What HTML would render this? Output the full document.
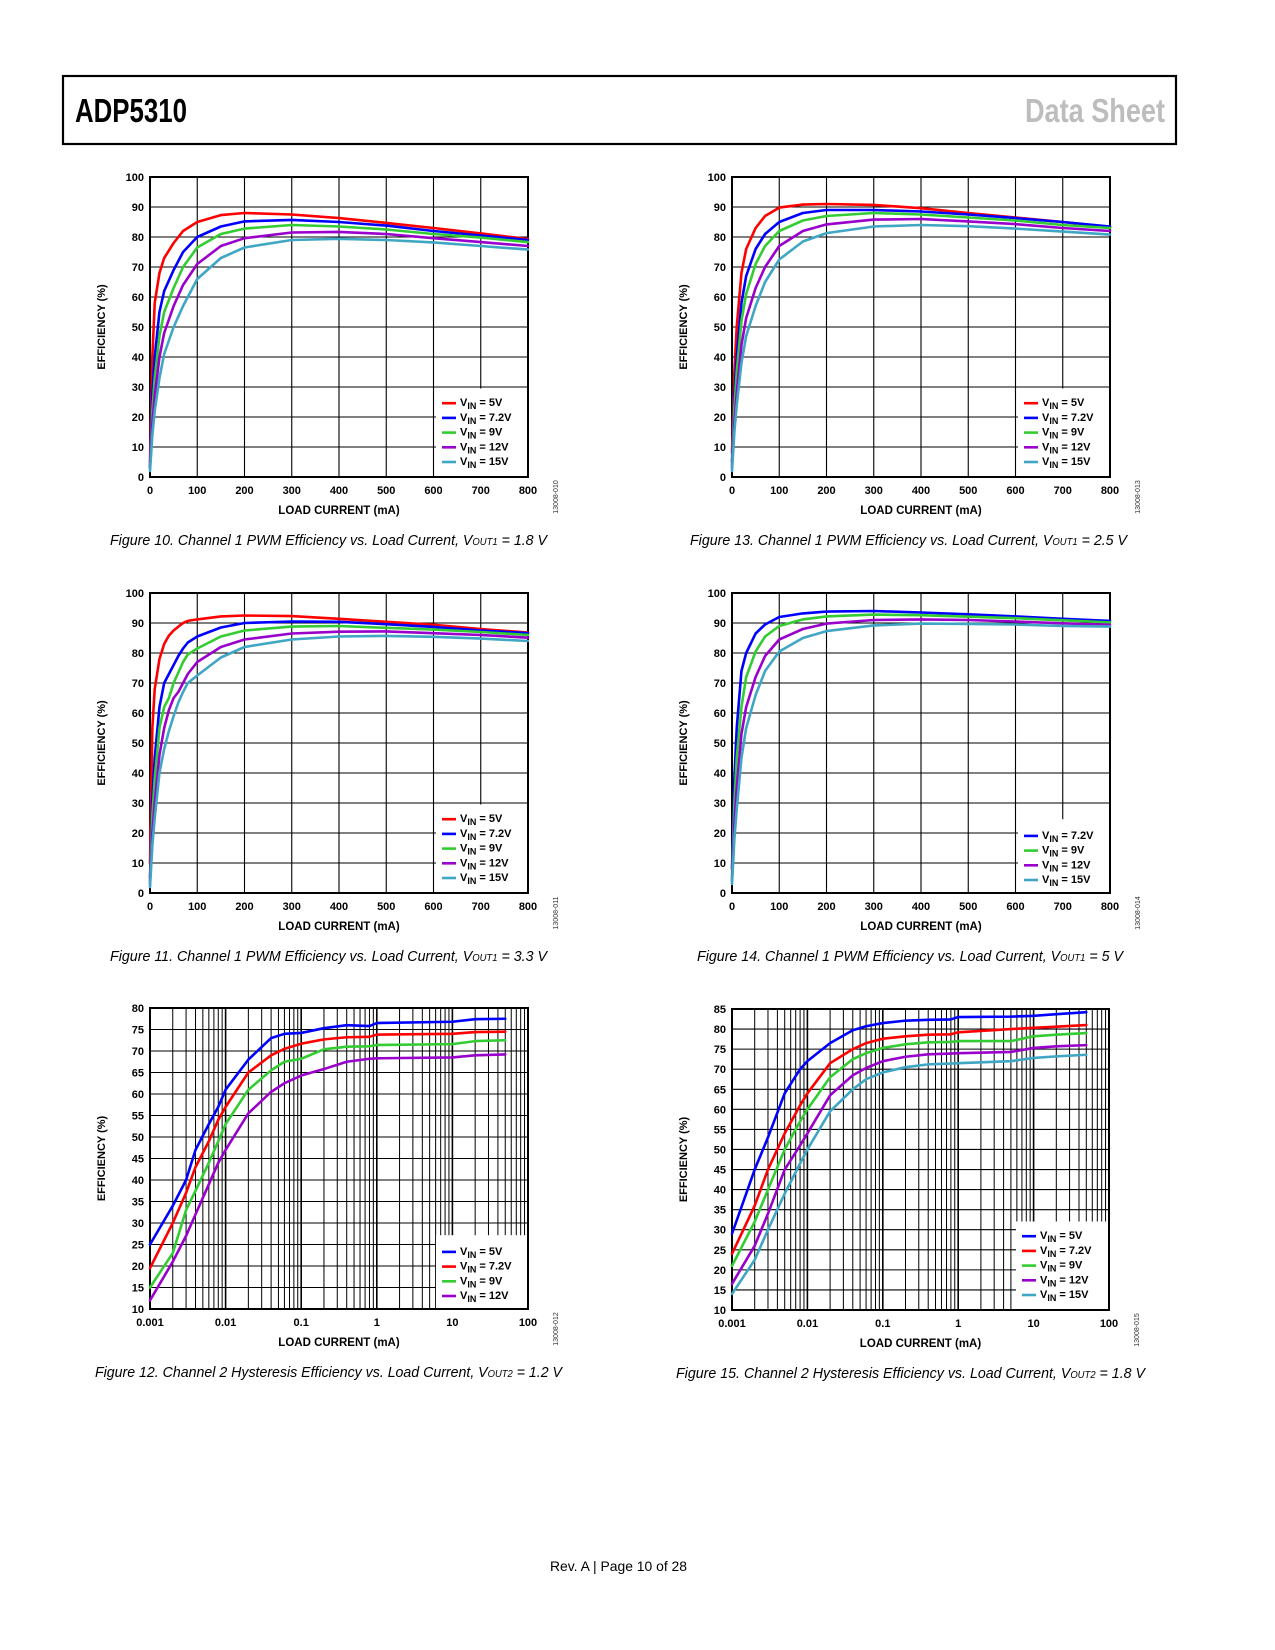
<!DOCTYPE html>
<html><head><meta charset="utf-8"><title>ADP5310 Data Sheet</title>
<style>
html,body{margin:0;padding:0;background:#fff;}
svg{display:block;}
text{font-family:"Liberation Sans",Arial,sans-serif;}
</style></head>
<body>
<svg id="page" xmlns="http://www.w3.org/2000/svg" width="1275" height="1650" viewBox="0 0 1275 1650">
<rect x="0" y="0" width="1275" height="1650" fill="#fff"/>
<rect x="63" y="76" width="1113" height="68" fill="none" stroke="#000" stroke-width="2.2"/>
<text x="75" y="122" font-size="33" font-weight="bold" textLength="112" lengthAdjust="spacingAndGlyphs">ADP5310</text>
<text x="1025" y="122" font-size="33" font-weight="bold" fill="#bdbdbd" textLength="140" lengthAdjust="spacingAndGlyphs">Data Sheet</text>
<text x="550" y="1571" font-size="14" textLength="137" lengthAdjust="spacingAndGlyphs">Rev. A | Page 10 of 28</text>
</svg>
<script>
// ---------- Figure 10 data (VOUT1 = 1.8 V) ----------
const c10x = [0, 5, 10, 20, 30, 50, 70, 100, 150, 200, 300, 400, 500, 600, 700, 800];
const c10v5 = [5, 40, 58, 68, 73, 78, 82, 85, 87.3, 88, 87.5, 86.3, 84.7, 83, 81.2, 79.3];
const c10v72 = [3, 28, 40, 55, 62, 69, 75, 80, 83.5, 85.2, 85.7, 85, 83.8, 82, 80.5, 79];
const c10v9 = [3, 22, 33, 47, 55, 63, 70, 76.5, 81, 82.8, 84, 83.5, 82.5, 81, 79.8, 78.3];
const c10v12 = [3, 18, 27, 40, 48, 57, 64, 71, 77, 79.6, 81.5, 81.7, 81, 79.6, 78.3, 77];
const c10v15 = [2, 14, 22, 33, 41, 50, 57, 66, 73, 76.5, 79, 79.4, 79, 78.2, 77, 75.8];
// ---------- Figure 13 data (VOUT1 = 2.5 V) ----------
const c13x = [0, 5, 10, 20, 30, 50, 70, 100, 150, 200, 300, 400, 500, 600, 700, 800];
const c13v5 = [8, 35, 50, 68, 76, 83, 87, 89.8, 90.8, 91, 90.7, 89.6, 88, 86.5, 85, 83.3];
const c13v72 = [5, 27, 40, 58, 67, 76, 81, 85, 88, 89, 89, 88.5, 87.5, 86.3, 85, 83.5];
const c13v9 = [4, 23, 35, 52, 61, 71, 77, 82, 85.5, 87, 88, 87.5, 86.5, 85.5, 84, 83];
const c13v12 = [3, 18, 28, 44, 53, 63, 70, 77, 82, 84.2, 85.8, 86, 85.2, 84.3, 83, 82];
const c13v15 = [2, 15, 24, 38, 47, 57, 65, 72.5, 78.5, 81.3, 83.5, 84, 83.6, 82.8, 81.8, 80.8];
// ---------- Figure 11 data (VOUT1 = 3.3 V) ----------
const c11x = [0, 5, 10, 20, 30, 40, 50, 60, 70, 80, 100, 150, 200, 300, 400, 500, 600, 700, 800];
const c11v5 = [10, 55, 68, 78, 83, 85.8, 87.5, 88.8, 90, 90.7, 91.2, 92.2, 92.5, 92.3, 91.4, 90.4, 89.4, 88, 86.8];
const c11v72 = [5, 32, 45, 62, 70, 73, 76, 79, 81.5, 83.5, 85.5, 88.5, 90, 90.5, 90.4, 89.6, 88.7, 87.5, 86.6];
const c11v9 = [4, 26, 38, 55, 62, 65, 70, 73.5, 77, 79.5, 81.5, 85.5, 87.5, 88.8, 89, 88.4, 87.8, 87, 86];
const c11v12 = [3, 20, 30, 46, 55, 61, 65, 67, 70, 73, 77, 82, 84.5, 86.5, 87.1, 87.2, 86.6, 86, 85.1];
const c11v15 = [2, 16, 25, 40, 48, 54, 59, 63.5, 67, 70, 72.5, 78.5, 82, 84.5, 85.5, 85.7, 85.4, 84.8, 84];
// ---------- Figure 14 data (VOUT1 = 5 V) ----------
const c14x = [0, 5, 10, 20, 30, 50, 70, 100, 150, 200, 300, 400, 500, 600, 700, 800];
const c14v72 = [8, 38, 55, 74, 80, 86.5, 89.5, 92, 93.2, 93.8, 94, 93.5, 92.9, 92.2, 91.4, 90.7];
const c14v9 = [5, 30, 45, 62, 72, 80.5, 85.5, 89, 91.2, 92.2, 92.8, 92.6, 92.1, 91.6, 90.9, 90.2];
const c14v12 = [4, 23, 35, 53, 62, 72, 79, 84.5, 88, 89.8, 91, 91.2, 91, 90.5, 89.9, 89.4];
const c14v15 = [3, 18, 28, 45, 55, 66, 74, 80.5, 85, 87.3, 89.2, 89.8, 89.7, 89.5, 89, 88.8];
// ---------- Figure 12 data (VOUT2 = 1.2 V, log x) ----------
const c12x = [0.001, 0.002, 0.003, 0.004, 0.006, 0.008, 0.01, 0.02, 0.04, 0.06, 0.1, 0.2, 0.4, 0.8, 1, 10, 20, 50];
const c12v5 = [25, 34, 40, 47, 53, 57, 61, 68, 73, 74, 74.2, 75.3, 76, 75.8, 76.5, 76.8, 77.4, 77.5];
const c12v72 = [19.5, 30, 37, 43, 49, 54, 57, 65, 69, 70.5, 71.7, 72.7, 73.2, 73.3, 73.8, 74, 74.4, 74.5];
const c12v9 = [15, 23, 33, 37.5, 44, 49, 53, 61, 65.5, 67.5, 68.2, 70.4, 71, 71.1, 71.4, 71.6, 72.3, 72.5];
const c12v12 = [12, 21, 27, 32, 39, 44, 47, 55.5, 60.5, 62.5, 64.3, 65.8, 67.5, 68.2, 68.3, 68.5, 69, 69.2];
// ---------- Figure 15 data (VOUT2 = 1.8 V, log x) ----------
const c15x = [0.001, 0.002, 0.003, 0.005, 0.008, 0.01, 0.02, 0.04, 0.06, 0.1, 0.2, 0.4, 0.8, 1, 5, 10, 20, 50];
const c15v5 = [29, 45, 53, 64, 70, 72, 76.5, 79.7, 80.7, 81.5, 82.1, 82.3, 82.4, 83, 83.1, 83.3, 83.7, 84.2];
const c15v72 = [24, 36, 45, 54, 61, 64, 71.5, 75, 76.5, 77.6, 78.2, 78.6, 78.7, 79.2, 80, 80.3, 80.6, 81];
const c15v9 = [21, 32, 40, 50, 57, 60, 68, 72.5, 74, 75.3, 76.2, 76.7, 76.8, 77, 77, 78.2, 78.6, 79];
const c15v12 = [16.5, 26, 34, 45, 51, 54, 63.5, 68.5, 70.3, 72, 73.1, 73.7, 73.9, 74, 74.3, 75.3, 75.7, 76];
const c15v15 = [14, 22.5, 30, 39, 46.5, 50, 59.5, 65, 67.5, 69.2, 70.5, 71.2, 71.4, 71.5, 72, 72.8, 73.2, 73.6];

const linTicks = ['0', '100', '200', '300', '400', '500', '600', '700', '800'];
const logTicks = ['0.001', '0.01', '0.1', '1', '10', '100'];

const COL = {v5: '#ff0000', v72: '#0000ff', v9: '#33cc33', v12: '#9900cc', v15: '#3fa6c4'};
const NS = 'http://www.w3.org/2000/svg';
const svg = document.getElementById('page');

function mk(tag, attrs, parent) {
  const el = document.createElementNS(NS, tag);
  for (const k in attrs) el.setAttribute(k, attrs[k]);
  (parent || svg).appendChild(el);
  return el;
}

function drawChart(cfg) {
  const g = mk('g', {});
  
  
  const L = cfg.left, T = cfg.top, W = cfg.w, H = cfg.h, R = L + W, B = T + H;
  const yS = v => B - (v - cfg.ymin) / (cfg.ymax - cfg.ymin) * H;
  const xS = cfg.log
    ? v => L + (Math.log10(v) + 3) / 5 * W
    : v => L + v / 800 * W;

  // grid
  const grid = mk('g', {stroke: '#000', 'stroke-width': 1.1}, g);
  
  
  for (let v = cfg.ymin; v <= cfg.ymax; v += cfg.ystep) {
    const y = yS(v);
    const ln = mk('line', {x1: L, x2: R, y1: y, y2: y}, grid);
    
    
    const t = mk('text', {x: L - 6, y: y + 4, 'font-size': 11, 'font-weight': 'bold', 'text-anchor': 'end', stroke: 'none'}, g);
    t.textContent = String(v);
    
    
  }
  if (cfg.log) {
    for (let d = 0; d < 5; d++) {
      for (let m = 1; m <= 9; m++) {
        const x = L + (d + Math.log10(m)) / 5 * W;
        const ln = mk('line', {x1: x, x2: x, y1: T, y2: B, 'stroke-width': m === 1 ? 1.6 : 1}, grid);
        
        
      }
    }
    logTicks.forEach((lab, i) => {
      const t = mk('text', {x: L + i / 5 * W, y: B + 17, 'font-size': 11, 'font-weight': 'bold', 'text-anchor': 'middle'}, g);
      t.textContent = lab;
      
      
    });
  } else {
    linTicks.forEach((lab, i) => {
      const x = xS(Number(lab));
      const ln = mk('line', {x1: x, x2: x, y1: T, y2: B}, grid);
      
      
      const t = mk('text', {x: x, y: B + 17, 'font-size': 11, 'font-weight': 'bold', 'text-anchor': 'middle'}, g);
      t.textContent = lab;
      
      
    });
  }
  const frame = mk('rect', {x: L, y: T, width: W, height: H, fill: 'none', stroke: '#000', 'stroke-width': 2}, g);
  
  

  // series
  cfg.series.forEach(s => {
    const d = s.y.map((v, i) => (i ? 'L' : 'M') + xS(cfg.xs[i]).toFixed(2) + ',' + yS(v).toFixed(2)).join(' ');
    const p = mk('path', {d: d, fill: 'none', stroke: COL[s.key], 'stroke-width': 2.6, 'stroke-linejoin': 'round', 'stroke-linecap': 'round'}, g);
    
    
  });

  // legend
  const n = cfg.series.length;
  const lg = mk('g', {}, g);
  
  
  const lx = cfg.log && n === 5 ? L + 287 : L + 289;
  const boxTop = B - (n * 14.7 + 15);
  mk('rect', {x: lx - 3, y: boxTop, width: R - lx + 2, height: B - boxTop - 1, fill: '#fff'}, lg);
  cfg.series.forEach((s, i) => {
    const y = B - 15 - (n - 1 - i) * 14.7 + (n === 4 ? 2 : 0);
    const ln = mk('line', {x1: lx + 3, x2: lx + 17, y1: y, y2: y, stroke: COL[s.key], 'stroke-width': 2.6}, lg);
    
    
    const t = mk('text', {x: lx + 21, y: y + 3, 'font-size': 11, 'font-weight': 'bold'}, lg);
    
    
    const a = mk('tspan', {}, t); a.textContent = 'V';
    const b = mk('tspan', {'font-size': 9, dy: 3}, t); b.textContent = 'IN';
    const c = mk('tspan', {dy: -3}, t); c.textContent = ' = ' + s.label;
  });

  // axis titles
  const yt = mk('text', {x: 0, y: 0, 'font-size': 11, 'font-weight': 'bold', 'text-anchor': 'middle', transform: 'translate(' + (L - 45) + ',' + (T + H / 2) + ') rotate(-90)'}, g);
  yt.textContent = 'EFFICIENCY (%)';
  
  
  const xt = mk('text', {x: L + W / 2, y: B + 37, 'font-size': 11.5, 'font-weight': 'bold', 'text-anchor': 'middle'}, g);
  xt.textContent = 'LOAD CURRENT (mA)';
  
  
  const code = mk('text', {x: 0, y: 0, 'font-size': 7, 'text-anchor': 'middle', fill: '#333', transform: 'translate(' + (R + 30) + ',' + (B + 20) + ') rotate(-90)'}, g);
  code.textContent = cfg.code;
  
  

  // caption
  const cap = mk('text', {x: cfg.capX, y: B + 68, 'font-size': 15, 'font-style': 'italic', textLength: cfg.capW, lengthAdjust: 'spacingAndGlyphs'}, g);
  
  
  const c1 = mk('tspan', {}, cap); c1.textContent = cfg.capText + ', V';
  const c2 = mk('tspan', {'font-size': 10}, cap); c2.textContent = cfg.sub;
  const c3 = mk('tspan', {}, cap); c3.textContent = ' = ' + cfg.capV;
}

drawChart({name: 'figure-10-chart', left: 150, top: 177, w: 378, h: 300, ymin: 0, ymax: 100, ystep: 10, log: false, xs: c10x, code: '13008-010',
  series: [{key: 'v5', y: c10v5, label: '5V'}, {key: 'v72', y: c10v72, label: '7.2V'}, {key: 'v9', y: c10v9, label: '9V'}, {key: 'v12', y: c10v12, label: '12V'}, {key: 'v15', y: c10v15, label: '15V'}],
  capX: 110, capW: 437, capText: 'Figure 10. Channel 1 PWM Efficiency vs. Load Current', sub: 'OUT1', capV: '1.8 V'});
drawChart({name: 'figure-13-chart', left: 732, top: 177, w: 378, h: 300, ymin: 0, ymax: 100, ystep: 10, log: false, xs: c13x, code: '13008-013',
  series: [{key: 'v5', y: c13v5, label: '5V'}, {key: 'v72', y: c13v72, label: '7.2V'}, {key: 'v9', y: c13v9, label: '9V'}, {key: 'v12', y: c13v12, label: '12V'}, {key: 'v15', y: c13v15, label: '15V'}],
  capX: 690, capW: 437, capText: 'Figure 13. Channel 1 PWM Efficiency vs. Load Current', sub: 'OUT1', capV: '2.5 V'});
drawChart({name: 'figure-11-chart', left: 150, top: 593, w: 378, h: 300, ymin: 0, ymax: 100, ystep: 10, log: false, xs: c11x, code: '13008-011',
  series: [{key: 'v5', y: c11v5, label: '5V'}, {key: 'v72', y: c11v72, label: '7.2V'}, {key: 'v9', y: c11v9, label: '9V'}, {key: 'v12', y: c11v12, label: '12V'}, {key: 'v15', y: c11v15, label: '15V'}],
  capX: 110, capW: 437, capText: 'Figure 11. Channel 1 PWM Efficiency vs. Load Current', sub: 'OUT1', capV: '3.3 V'});
drawChart({name: 'figure-14-chart', left: 732, top: 593, w: 378, h: 300, ymin: 0, ymax: 100, ystep: 10, log: false, xs: c14x, code: '13008-014',
  series: [{key: 'v72', y: c14v72, label: '7.2V'}, {key: 'v9', y: c14v9, label: '9V'}, {key: 'v12', y: c14v12, label: '12V'}, {key: 'v15', y: c14v15, label: '15V'}],
  capX: 697, capW: 426, capText: 'Figure 14. Channel 1 PWM Efficiency vs. Load Current', sub: 'OUT1', capV: '5 V'});
drawChart({name: 'figure-12-chart', left: 150, top: 1008, w: 378, h: 301, ymin: 10, ymax: 80, ystep: 5, log: true, xs: c12x, code: '13008-012',
  series: [{key: 'v72', y: c12v5, label: '5V'}, {key: 'v5', y: c12v72, label: '7.2V'}, {key: 'v9', y: c12v9, label: '9V'}, {key: 'v12', y: c12v12, label: '12V'}],
  capX: 95, capW: 467, capText: 'Figure 12. Channel 2 Hysteresis Efficiency vs. Load Current', sub: 'OUT2', capV: '1.2 V'});
drawChart({name: 'figure-15-chart', left: 732, top: 1009, w: 377, h: 301, ymin: 10, ymax: 85, ystep: 5, log: true, xs: c15x, code: '13008-015',
  series: [{key: 'v72', y: c15v5, label: '5V'}, {key: 'v5', y: c15v72, label: '7.2V'}, {key: 'v9', y: c15v9, label: '9V'}, {key: 'v12', y: c15v12, label: '12V'}, {key: 'v15', y: c15v15, label: '15V'}],
  capX: 676, capW: 469, capText: 'Figure 15. Channel 2 Hysteresis Efficiency vs. Load Current', sub: 'OUT2', capV: '1.8 V'});
</script>
</body></html>
